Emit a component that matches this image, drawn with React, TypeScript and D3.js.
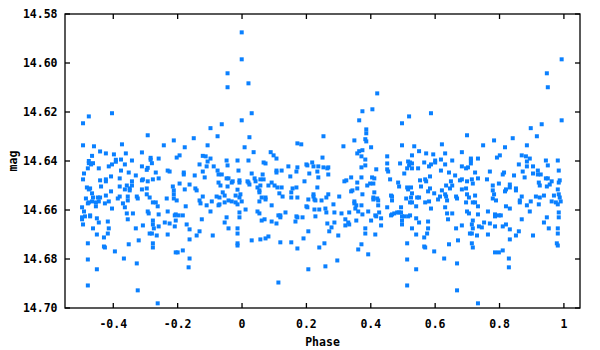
import React from "react";
import * as d3 from "d3";

// phase / magnitude observations, grouped by region of the plot
const leftHigh: [number, number][] = [
  [-0.494, 14.6246], [-0.476, 14.6218], [-0.404, 14.6205], [-0.494, 14.6336], [-0.46, 14.634],
  [-0.441, 14.6361], [-0.423, 14.6369], [-0.398, 14.6373], [-0.373, 14.6332], [-0.361, 14.6369],
  [-0.311, 14.6365], [-0.293, 14.6295], [-0.243, 14.6336], [-0.212, 14.6316], [-0.178, 14.6344],
];

const leftLow: [number, number][] = [
  [-0.466, 14.6379], [-0.392, 14.6395], [-0.392, 14.6403], [-0.376, 14.6394], [-0.342, 14.6398],
  [-0.284, 14.6387], [-0.284, 14.6395], [-0.259, 14.639], [-0.203, 14.6386], [-0.194, 14.6377],
  [-0.476, 14.64], [-0.476, 14.6409], [-0.463, 14.6409], [-0.469, 14.6414], [-0.479, 14.643],
  [-0.445, 14.643], [-0.414, 14.6422], [-0.404, 14.6414], [-0.364, 14.6414], [-0.311, 14.6422],
  [-0.293, 14.6428], [-0.296, 14.6436], [-0.28, 14.6409], [-0.376, 14.6439], [-0.352, 14.6447],
  [-0.231, 14.6439], [-0.225, 14.6443], [-0.181, 14.6447], [-0.181, 14.6455], [-0.491, 14.6451],
  [-0.33, 14.6459], [-0.407, 14.6463], [-0.268, 14.6447], [-0.494, 14.6475], [-0.441, 14.6479],
  [-0.423, 14.6475], [-0.423, 14.6483], [-0.38, 14.6471], [-0.342, 14.6483], [-0.311, 14.6479],
  [-0.308, 14.6475], [-0.293, 14.6483], [-0.277, 14.6475], [-0.259, 14.6471], [-0.194, 14.6492],
  [-0.438, 14.6504], [-0.482, 14.6508], [-0.472, 14.6512], [-0.476, 14.6516], [-0.38, 14.6504],
  [-0.358, 14.65], [-0.342, 14.65], [-0.349, 14.6512], [-0.364, 14.6516], [-0.349, 14.652],
  [-0.311, 14.6516], [-0.296, 14.6512], [-0.215, 14.6504], [-0.212, 14.652], [-0.178, 14.6516],
  [-0.163, 14.6496], [-0.466, 14.6532], [-0.463, 14.6549], [-0.448, 14.6549], [-0.441, 14.6549],
  [-0.485, 14.6553], [-0.423, 14.6541], [-0.407, 14.6524], [-0.38, 14.6545], [-0.386, 14.6553],
  [-0.355, 14.6545], [-0.355, 14.6561], [-0.327, 14.6545], [-0.324, 14.6553], [-0.296, 14.6536],
  [-0.287, 14.6549], [-0.234, 14.6553], [-0.212, 14.6536], [-0.212, 14.6553], [-0.203, 14.6561],
  [-0.476, 14.6569], [-0.466, 14.6565], [-0.479, 14.6573], [-0.454, 14.6569], [-0.445, 14.6565],
  [-0.426, 14.6573], [-0.414, 14.6565], [-0.37, 14.6573], [-0.277, 14.6569], [-0.268, 14.6569],
  [-0.497, 14.6589], [-0.454, 14.6585], [-0.404, 14.6594], [-0.364, 14.6589], [-0.262, 14.6585],
  [-0.175, 14.6585], [-0.491, 14.6606], [-0.488, 14.6626], [-0.497, 14.663], [-0.497, 14.6638],
  [-0.494, 14.6659], [-0.472, 14.6622], [-0.472, 14.6626], [-0.451, 14.6634], [-0.445, 14.6651],
  [-0.417, 14.6647], [-0.358, 14.6614], [-0.355, 14.6638], [-0.339, 14.6614], [-0.293, 14.6606],
  [-0.29, 14.6614], [-0.259, 14.6618], [-0.231, 14.6606], [-0.209, 14.6622], [-0.206, 14.6618],
  [-0.197, 14.6622], [-0.184, 14.6622], [-0.206, 14.6643], [-0.209, 14.6667], [-0.225, 14.6655],
  [-0.24, 14.6651], [-0.259, 14.6667], [-0.277, 14.6659], [-0.277, 14.6643], [-0.274, 14.6675],
  [-0.308, 14.6663], [-0.33, 14.6675], [-0.463, 14.6675], [-0.414, 14.6675], [-0.172, 14.6659],
  [-0.163, 14.6679], [-0.451, 14.67], [-0.429, 14.6712], [-0.417, 14.6696], [-0.479, 14.6736],
  [-0.429, 14.6749], [-0.426, 14.6753], [-0.352, 14.674], [-0.321, 14.6724], [-0.287, 14.6696],
  [-0.28, 14.6696], [-0.265, 14.6704], [-0.231, 14.67], [-0.277, 14.6736], [-0.277, 14.6753],
  [-0.395, 14.6769], [-0.206, 14.6773], [-0.2, 14.6773], [-0.184, 14.6765], [-0.163, 14.672],
  [-0.163, 14.6798], [-0.166, 14.6834], [-0.479, 14.6802], [-0.451, 14.6842], [-0.367, 14.6798],
  [-0.327, 14.6818], [-0.479, 14.6908], [-0.324, 14.6928], [-0.262, 14.6981],
];

const midLeftHigh: [number, number][] = [
  [-0.001, 14.5875], [-0.001, 14.5985], [-0.045, 14.6042], [0.02, 14.6083], [-0.045, 14.6099],
  [0.03, 14.6205], [-0.001, 14.6234], [-0.098, 14.6266], [-0.063, 14.625], [-0.15, 14.6307],
  [-0.076, 14.6299], [0.023, 14.6303], [-0.107, 14.6336], [0.008, 14.6344], [0.036, 14.6364],
  [0.089, 14.6364], [0.172, 14.6328], [0.184, 14.6332],
];

const midLeftLow: [number, number][] = [
  [-0.122, 14.6379], [-0.113, 14.6381], [-0.098, 14.639], [-0.107, 14.6402], [-0.132, 14.6414],
  [-0.11, 14.6422], [-0.088, 14.6422], [-0.048, 14.6398], [-0.045, 14.6418], [-0.014, 14.6398],
  [0.02, 14.6398], [0.067, 14.6406], [0.073, 14.641], [0.098, 14.6377], [0.107, 14.639],
  [-0.122, 14.6443], [-0.076, 14.6439], [-0.147, 14.6459], [-0.116, 14.6467], [-0.073, 14.6455],
  [-0.063, 14.6455], [-0.011, 14.6439], [0.03, 14.6451], [0.064, 14.6455], [0.039, 14.6471],
  [0.042, 14.6483], [0.057, 14.6475], [0.067, 14.6475], [0.107, 14.6439], [0.107, 14.6447],
  [0.123, 14.6439], [0.144, 14.6422], [0.172, 14.6426], [0.169, 14.6443], [0.15, 14.6463],
  [0.2, 14.6414], [0.203, 14.6418], [0.218, 14.6406], [0.222, 14.6422], [0.237, 14.6422],
  [0.234, 14.6443], [0.237, 14.6467], [0.209, 14.6451], [0.194, 14.6483], [-0.048, 14.6471],
  [-0.042, 14.6471], [-0.029, 14.6483], [-0.032, 14.6488], [-0.008, 14.6479], [-0.008, 14.6488],
  [-0.073, 14.6488], [-0.067, 14.65], [-0.045, 14.6504], [-0.014, 14.6517], [0.017, 14.6483],
  [0.02, 14.6488], [0.023, 14.6496], [0.048, 14.6508], [0.057, 14.65], [0.054, 14.652],
  [0.054, 14.6528], [0.082, 14.65], [0.092, 14.6488], [0.101, 14.65], [0.11, 14.6508],
  [0.123, 14.6508], [0.157, 14.6512], [0.169, 14.6508], [0.234, 14.6508], [-0.145, 14.6512],
  [-0.141, 14.652], [-0.122, 14.6545], [-0.079, 14.6545], [-0.07, 14.6549], [-0.06, 14.6528],
  [-0.054, 14.6541], [-0.005, 14.6536], [-0.008, 14.6549], [-0.02, 14.6541], [-0.132, 14.6561],
  [-0.129, 14.6573], [-0.11, 14.6581], [-0.094, 14.6565], [-0.073, 14.6581], [-0.07, 14.6577],
  [-0.054, 14.6569], [-0.042, 14.6561], [-0.032, 14.6565], [-0.02, 14.6569], [-0.014, 14.6577],
  [-0.001, 14.6565], [0.011, 14.6598], [0.061, 14.6549], [0.073, 14.6549], [0.073, 14.6557],
  [0.054, 14.6565], [0.092, 14.6581], [0.116, 14.6532], [0.126, 14.6545], [0.153, 14.6528],
  [0.153, 14.6549], [0.172, 14.6549], [0.206, 14.6557], [0.222, 14.6536], [0.222, 14.6545],
  [0.225, 14.6557], [0.228, 14.6561], [0.2, 14.6585], [0.203, 14.6589], [0.225, 14.6598],
  [0.24, 14.6598], [-0.098, 14.6606], [-0.125, 14.6638], [-0.054, 14.6651], [-0.048, 14.663],
  [-0.042, 14.6675], [-0.014, 14.6675], [-0.008, 14.663], [-0.008, 14.661], [0.048, 14.6606],
  [0.054, 14.6614], [0.061, 14.6643], [0.07, 14.6638], [0.092, 14.6647], [0.107, 14.6655],
  [0.113, 14.6622], [0.119, 14.6622], [0.119, 14.663], [0.135, 14.661], [0.166, 14.6647],
  [0.169, 14.6626], [0.172, 14.663], [0.188, 14.663], [0.206, 14.6687], [0.228, 14.6626],
  [-0.132, 14.6687], [-0.141, 14.6704], [-0.091, 14.6704], [-0.014, 14.6696], [-0.014, 14.6736],
  [-0.014, 14.6745], [0.03, 14.6724], [0.057, 14.672], [0.073, 14.6716], [0.082, 14.6708],
  [0.119, 14.6732], [0.153, 14.6732], [0.172, 14.6757], [0.191, 14.6716], [0.24, 14.6753],
  [0.206, 14.6842], [0.113, 14.6896],
];

const midRightHigh: [number, number][] = [
  [0.253, 14.6299], [0.42, 14.6124], [0.374, 14.6197], [0.405, 14.6189], [0.364, 14.6234],
  [0.386, 14.6271], [0.386, 14.6287], [0.349, 14.6316], [0.383, 14.6311], [0.386, 14.632],
  [0.315, 14.634], [0.401, 14.6344], [0.374, 14.6356], [0.358, 14.6369], [0.364, 14.636],
  [0.497, 14.6246], [0.519, 14.6218], [0.587, 14.6205], [0.497, 14.6336], [0.535, 14.634],
  [0.55, 14.636], [0.572, 14.6369], [0.594, 14.6373], [0.621, 14.6332], [0.631, 14.6369],
];

const midRightLow: [number, number][] = [
  [0.25, 14.6386], [0.253, 14.6426], [0.265, 14.643], [0.268, 14.6426], [0.268, 14.6455],
  [0.371, 14.6381], [0.383, 14.6394], [0.371, 14.6426], [0.383, 14.6418], [0.417, 14.6434],
  [0.451, 14.6381], [0.451, 14.641], [0.451, 14.6434], [0.454, 14.6443], [0.491, 14.641],
  [0.516, 14.6402], [0.522, 14.6406], [0.528, 14.641], [0.519, 14.6418], [0.513, 14.643],
  [0.528, 14.643], [0.547, 14.643], [0.504, 14.6451], [0.528, 14.6377], [0.566, 14.6406],
  [0.581, 14.6422], [0.587, 14.6414], [0.6, 14.6398], [0.6, 14.6406], [0.618, 14.6394],
  [0.631, 14.6414], [0.643, 14.6447], [0.618, 14.6439], [0.584, 14.6463], [0.318, 14.6483],
  [0.324, 14.6479], [0.339, 14.6467], [0.343, 14.652], [0.339, 14.6524], [0.358, 14.6488],
  [0.358, 14.6512], [0.371, 14.6467], [0.389, 14.65], [0.398, 14.6492], [0.404, 14.6467],
  [0.411, 14.6471], [0.408, 14.6492], [0.411, 14.6528], [0.374, 14.6536], [0.46, 14.6475],
  [0.485, 14.6488], [0.488, 14.6504], [0.513, 14.6508], [0.516, 14.6516], [0.525, 14.6508],
  [0.528, 14.6532], [0.553, 14.6479], [0.569, 14.6475], [0.572, 14.6483], [0.556, 14.6504],
  [0.578, 14.6524], [0.584, 14.6512], [0.597, 14.6532], [0.609, 14.6557], [0.615, 14.6545],
  [0.621, 14.652], [0.634, 14.65], [0.631, 14.6536], [0.634, 14.6545], [0.637, 14.6561],
  [0.408, 14.6549], [0.408, 14.6557], [0.42, 14.6553], [0.423, 14.6561], [0.423, 14.6581],
  [0.463, 14.6541], [0.466, 14.6545], [0.466, 14.6561], [0.51, 14.6553], [0.525, 14.6549],
  [0.544, 14.6549], [0.55, 14.6549], [0.522, 14.6569], [0.528, 14.6569], [0.541, 14.6585],
  [0.569, 14.6569], [0.581, 14.6565], [0.587, 14.6594], [0.631, 14.6589], [0.637, 14.6614],
  [0.64, 14.6638], [0.247, 14.6561], [0.268, 14.6536], [0.262, 14.6549], [0.302, 14.6545],
  [0.284, 14.6577], [0.349, 14.6565], [0.349, 14.6573], [0.355, 14.6581], [0.352, 14.6594],
  [0.371, 14.6581], [0.361, 14.6606], [0.374, 14.6618], [0.392, 14.6606], [0.401, 14.6643],
  [0.414, 14.6622], [0.417, 14.6626], [0.426, 14.661], [0.432, 14.6634], [0.414, 14.67],
  [0.432, 14.6663], [0.333, 14.661], [0.333, 14.6659], [0.321, 14.6638], [0.321, 14.6663],
  [0.33, 14.6651], [0.309, 14.6614], [0.287, 14.661], [0.262, 14.661], [0.259, 14.6594],
  [0.265, 14.6655], [0.278, 14.6671], [0.271, 14.6687], [0.287, 14.6651], [0.299, 14.6704],
  [0.355, 14.6643], [0.383, 14.6675], [0.383, 14.6696], [0.451, 14.6589], [0.463, 14.6622],
  [0.466, 14.6618], [0.473, 14.6614], [0.482, 14.661], [0.488, 14.661], [0.494, 14.6589],
  [0.494, 14.661], [0.497, 14.6626], [0.497, 14.6643], [0.497, 14.6659], [0.504, 14.6626],
  [0.516, 14.6626], [0.522, 14.6622], [0.541, 14.6634], [0.55, 14.6651], [0.528, 14.6675],
  [0.541, 14.67], [0.566, 14.6712], [0.578, 14.6647], [0.578, 14.6675], [0.575, 14.6696],
  [0.566, 14.6749], [0.569, 14.6753], [0.597, 14.6769], [0.643, 14.674], [0.628, 14.6798],
  [0.256, 14.6736], [0.371, 14.674], [0.361, 14.6761], [0.392, 14.6781], [0.296, 14.6806],
  [0.259, 14.683], [0.513, 14.6736], [0.513, 14.6802], [0.541, 14.6842], [0.513, 14.6908],
];

const rightHigh: [number, number][] = [
  [0.993, 14.5985], [0.947, 14.6042], [0.95, 14.6099], [0.993, 14.6234], [0.931, 14.625],
  [0.897, 14.6266], [0.699, 14.6295], [0.916, 14.6299], [0.841, 14.6307], [0.783, 14.6316],
  [0.749, 14.6336], [0.885, 14.6336], [0.817, 14.6344], [0.683, 14.6364],
];

const rightLow: [number, number][] = [
  [0.653, 14.6398], [0.711, 14.639], [0.711, 14.6398], [0.711, 14.641], [0.733, 14.639],
  [0.792, 14.6386], [0.801, 14.6377], [0.869, 14.6377], [0.882, 14.6381], [0.885, 14.6402],
  [0.894, 14.639], [0.944, 14.6398], [0.981, 14.6398], [0.86, 14.6414], [0.885, 14.6422],
  [0.904, 14.6422], [0.95, 14.6418], [0.683, 14.6422], [0.696, 14.643], [0.702, 14.6426],
  [0.724, 14.6447], [0.662, 14.6459], [0.677, 14.6479], [0.683, 14.6475], [0.699, 14.6483],
  [0.714, 14.6475], [0.733, 14.6471], [0.717, 14.6492], [0.761, 14.6475], [0.77, 14.6443],
  [0.81, 14.6455], [0.814, 14.6447], [0.845, 14.6459], [0.872, 14.6443], [0.878, 14.6467],
  [0.904, 14.6451], [0.919, 14.6439], [0.919, 14.6455], [0.928, 14.6455], [0.944, 14.6471],
  [0.95, 14.6471], [0.962, 14.6483], [0.984, 14.6439], [0.987, 14.6479], [0.984, 14.6488],
  [0.922, 14.6488], [0.925, 14.65], [0.798, 14.6492], [0.779, 14.65], [0.779, 14.652],
  [0.783, 14.6536], [0.779, 14.6553], [0.789, 14.6561], [0.817, 14.6524], [0.82, 14.6516],
  [0.832, 14.6496], [0.832, 14.6508], [0.851, 14.6512], [0.851, 14.652], [0.869, 14.6545],
  [0.863, 14.6561], [0.863, 14.6569], [0.897, 14.6565], [0.885, 14.6581], [0.913, 14.6545],
  [0.925, 14.6549], [0.922, 14.6577], [0.938, 14.6541], [0.947, 14.6504], [0.956, 14.6496],
  [0.962, 14.6565], [0.969, 14.6541], [0.975, 14.6569], [0.981, 14.6577], [0.981, 14.6516],
  [0.984, 14.6536], [0.987, 14.6549], [0.99, 14.6565], [0.649, 14.6483], [0.653, 14.65],
  [0.646, 14.6512], [0.683, 14.6516], [0.696, 14.6512], [0.699, 14.6536], [0.705, 14.6549],
  [0.724, 14.6541], [0.665, 14.6545], [0.668, 14.6553], [0.696, 14.6569], [0.717, 14.6569],
  [0.724, 14.6569], [0.733, 14.6585], [0.653, 14.6614], [0.665, 14.6675], [0.683, 14.6663],
  [0.699, 14.6606], [0.705, 14.6614], [0.717, 14.6643], [0.714, 14.6659], [0.717, 14.6675],
  [0.708, 14.6696], [0.714, 14.6696], [0.73, 14.6704], [0.733, 14.6618], [0.736, 14.6667],
  [0.745, 14.6671], [0.752, 14.6651], [0.764, 14.6606], [0.764, 14.67], [0.77, 14.6655],
  [0.786, 14.6618], [0.786, 14.6626], [0.786, 14.6667], [0.798, 14.6622], [0.804, 14.6622],
  [0.81, 14.6667], [0.82, 14.6585], [0.82, 14.6659], [0.832, 14.6594], [0.832, 14.6679],
  [0.832, 14.672], [0.851, 14.6704], [0.86, 14.6687], [0.869, 14.6638], [0.894, 14.6606],
  [0.904, 14.6704], [0.938, 14.6651], [0.947, 14.663], [0.953, 14.6675], [0.984, 14.661],
  [0.984, 14.663], [0.981, 14.6675], [0.981, 14.6696], [0.978, 14.6736], [0.981, 14.6745],
  [0.671, 14.6724], [0.714, 14.6736], [0.717, 14.6753], [0.786, 14.6773], [0.798, 14.6773],
  [0.81, 14.6765], [0.829, 14.6798], [0.829, 14.6834], [0.668, 14.6818], [0.668, 14.6928],
  [0.733, 14.6981],
];

const xTicks = [-0.4, -0.2, 0, 0.2, 0.4, 0.6, 0.8, 1];
const yTicks = [14.58, 14.6, 14.62, 14.64, 14.66, 14.68, 14.7];

const W = 600;
const H = 350;
const plot = { left: 65, right: 580, top: 14, bottom: 308 };
const FONT = "'DejaVu Sans Mono', monospace";
const BLUE = "#0a80ff";

export default function App() {
  const data = [
    ...leftHigh, ...leftLow, ...midLeftHigh, ...midLeftLow,
    ...midRightHigh, ...midRightLow, ...rightHigh, ...rightLow,
  ];

  const x = d3.scaleLinear().domain([-0.55, 1.05]).range([plot.left, plot.right]);
  const y = d3.scaleLinear().domain([14.58, 14.7]).range([plot.top, plot.bottom]);
  const tick = 5;
  const size = 4;

  const xFmt = (d: number) => (d === 0 || d === 1 ? String(d) : d.toFixed(1));

  return (
    <svg
      width={W}
      height={H}
      style={{ position: "absolute", left: 0, top: 0, background: "#fff" }}
    >
      <rect x={0} y={0} width={W} height={H} fill="#fff" />

      {data.map(([p, m], i) => (
        <rect
          key={i}
          x={x(p) - size / 2}
          y={y(m) - size / 2}
          width={size}
          height={size}
          fill={BLUE}
        />
      ))}

      {/* inward ticks on all sides */}
      <g stroke="#000" strokeWidth={1.3}>
        {xTicks.map((t) => (
          <g key={"x" + t}>
            <line x1={x(t)} x2={x(t)} y1={plot.bottom} y2={plot.bottom - tick} />
            <line x1={x(t)} x2={x(t)} y1={plot.top} y2={plot.top + tick} />
          </g>
        ))}
        {yTicks.map((t) => (
          <g key={"y" + t}>
            <line x1={plot.left} x2={plot.left + tick} y1={y(t)} y2={y(t)} />
            <line x1={plot.right} x2={plot.right - tick} y1={y(t)} y2={y(t)} />
          </g>
        ))}
      </g>

      <rect
        x={plot.left}
        y={plot.top}
        width={plot.right - plot.left}
        height={plot.bottom - plot.top}
        fill="none"
        stroke="#000"
        strokeWidth={1.3}
      />

      <g fontFamily={FONT} fontWeight="bold" fontSize={11.5} fill="#000">
        {xTicks.map((t) => (
          <text key={"xl" + t} x={x(t)} y={328} textAnchor="middle">
            {xFmt(t)}
          </text>
        ))}
        {yTicks.map((t) => (
          <text key={"yl" + t} x={57.5} y={y(t)} dy="0.35em" textAnchor="end">
            {t.toFixed(2)}
          </text>
        ))}
        <text x={(plot.left + plot.right) / 2} y={346} textAnchor="middle">
          Phase
        </text>
        <text
          transform={`translate(17,${(plot.top + plot.bottom) / 2}) rotate(-90)`}
          textAnchor="middle"
        >
          mag
        </text>
      </g>
    </svg>
  );
}
